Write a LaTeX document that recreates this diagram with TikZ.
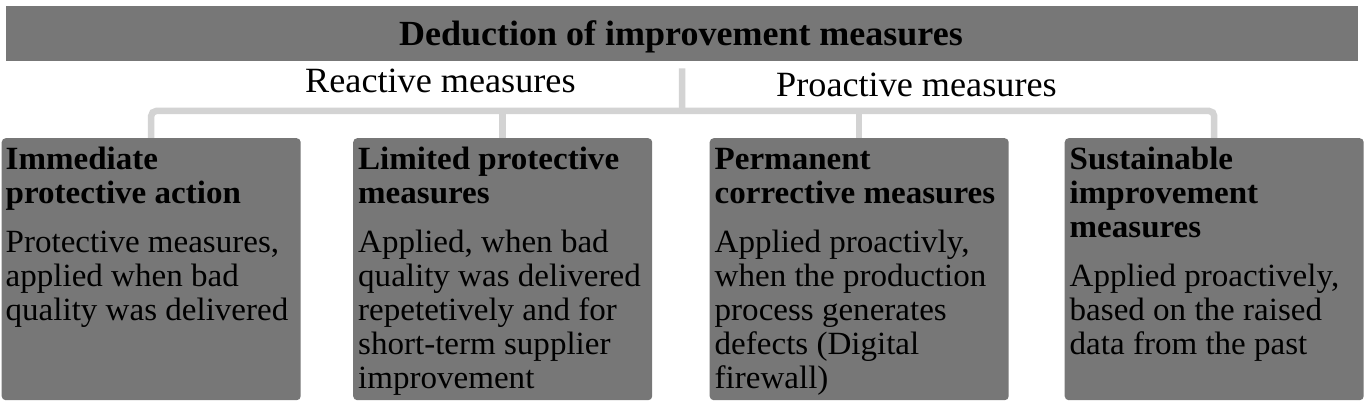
\documentclass[tikz,border=0pt]{standalone}
\usepackage{fontspec}
\setmainfont{Liberation Serif}[FakeStretch=1.02]
\definecolor{boxgray}{HTML}{777777}
\definecolor{linegray}{HTML}{D3D3D3}
\newcommand\boxlines[2]{\vtop{\lineskiplimit=-100pt\baselineskip=34pt\bfseries #1\vskip14.5pt\mdseries #2}}
\tikzset{
  mbox/.style={fill=boxgray, rounded corners=4pt, minimum width=299pt, minimum height=262pt, inner sep=0pt, anchor=north west},
  conn/.style={draw=linegray, line width=6.5pt},
  btext/.style={anchor=base west, inner sep=0pt, font=\fontsize{32.4}{34}\selectfont},
  lbl/.style={anchor=base west, inner sep=0pt, font=\fontsize{35.5}{40}\selectfont},
}
\begin{document}
\begin{tikzpicture}[x=1pt,y=-1pt]
\useasboundingbox (0,0) rectangle (1365,401);
% top bar
\node[fill=boxgray, minimum width=1352pt, minimum height=55pt, inner sep=0pt, anchor=north west] (bar) at (6,6) {};
\node[anchor=base, inner sep=0pt, font=\fontsize{35.3}{40}\selectfont\bfseries] (bartitle) at (681,45.5) {Deduction of improvement measures};
% labels
\node[lbl] (reactive) at (305,92.7) {Reactive measures};
\node[lbl] (proactive) at (776,96.7) {Proactive measures};
% boxes
\node[mbox] (box1) at (1.5,138) {};
\node[mbox] (box2) at (353,138) {};
\node[mbox] (box3) at (709.5,138) {};
\node[mbox] (box4) at (1064.5,138) {};
% connectors
\coordinate (hub) at (682,111);
\draw[conn] ([yshift=-7pt]bar.south) -- (hub);
\draw[conn, rounded corners=5pt] (box1.north) |- (hub) -| (box4.north);
\draw[conn] (box2.north) -- (box2.north |- hub);
\draw[conn] (box3.north) -- (box3.north |- hub);
% box texts
\node[btext] (t1) at ([shift={(4,31.5)}]box1.north west) {\boxlines
  {\hbox{Immediate}\hbox{protective action}}
  {\hbox{Protective measures,}\hbox{applied when bad}\hbox{quality was delivered}}};
\node[btext] (t2) at ([shift={(5,31.5)}]box2.north west) {\boxlines
  {\hbox{Limited protective}\hbox{measures}}
  {\hbox{Applied, when bad}\hbox{quality was delivered}\hbox{repetetively and for}\hbox{short-term supplier}\hbox{improvement}}};
\node[btext] (t3) at ([shift={(5,31.5)}]box3.north west) {\boxlines
  {\hbox{Permanent}\hbox{corrective measures}}
  {\hbox{Applied proactivly,}\hbox{when the production}\hbox{process generates}\hbox{defects (Digital}\hbox{firewall)}}};
\node[btext] (t4) at ([shift={(5,31.5)}]box4.north west) {\boxlines
  {\hbox{Sustainable}\hbox{improvement}\hbox{measures}}
  {\hbox{Applied proactively,}\hbox{based on the raised}\hbox{data from the past}}};
\end{tikzpicture}
\end{document}
